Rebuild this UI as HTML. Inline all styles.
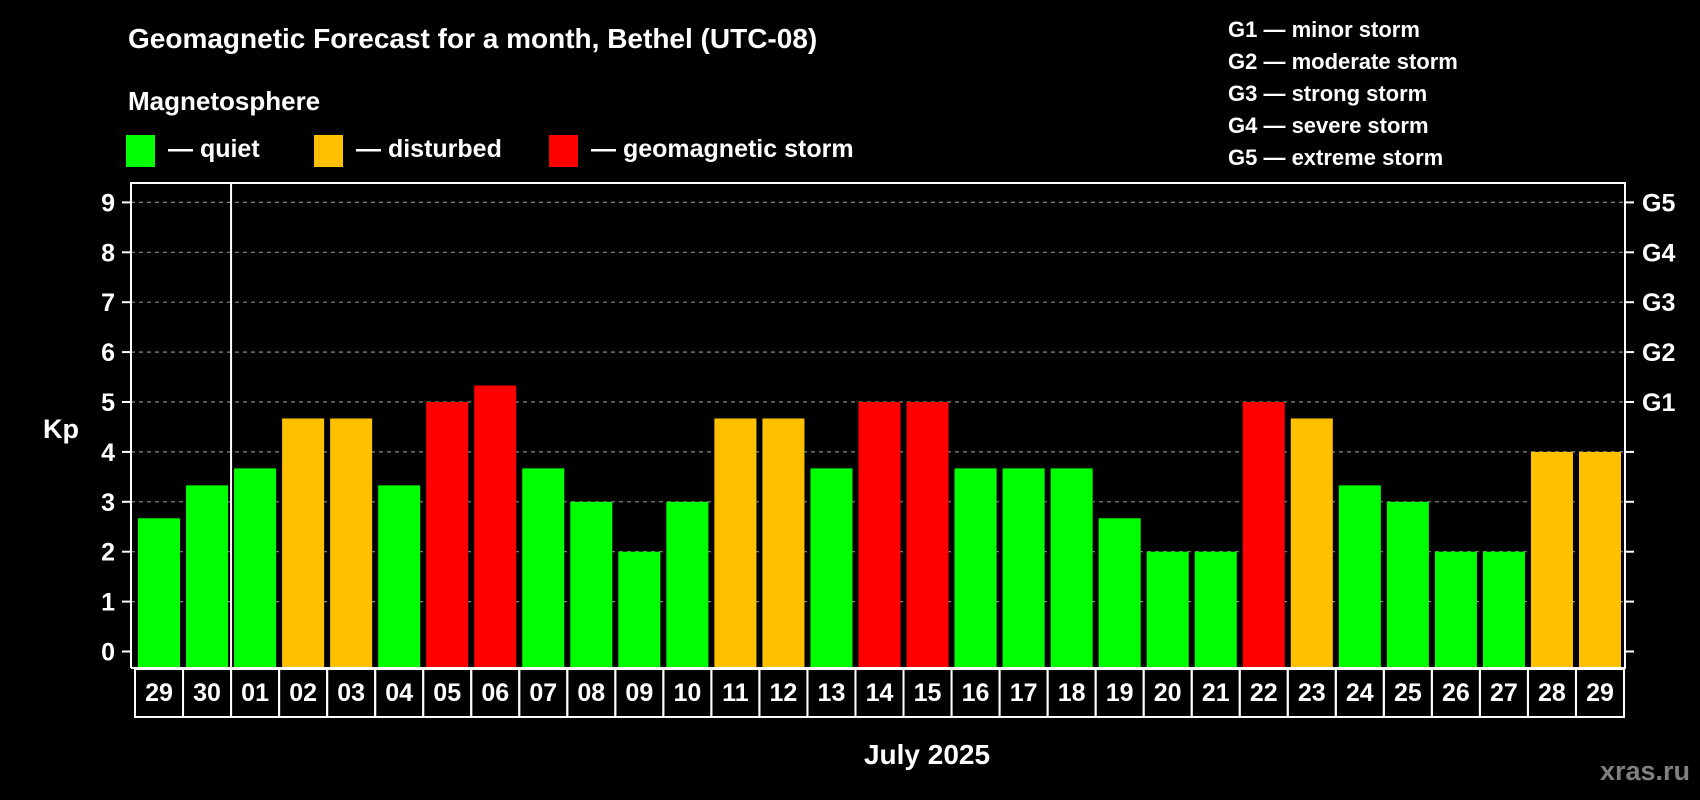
<!DOCTYPE html>
<html><head><meta charset="utf-8"><style>
html,body{margin:0;padding:0;background:#000;}
svg{display:block;font-family:"Liberation Sans",Arial,sans-serif;font-weight:bold;}
</style></head><body>
<svg id="chart" width="1700" height="800" viewBox="0 0 1700 800">
<rect x="0" y="0" width="1700" height="800" fill="#000"/>
<text x="128" y="48" font-size="28" fill="#fff">Geomagnetic Forecast for a month, Bethel (UTC-08)</text>
<text x="128" y="110" font-size="26" fill="#fff">Magnetosphere</text>
<g>
<rect x="126" y="135" width="29" height="32" fill="#00ff00"/>
<text x="168" y="157" font-size="25" fill="#fff">— quiet</text></g>
<g>
<rect x="314" y="135" width="29" height="32" fill="#ffc000"/>
<text x="356" y="157" font-size="25" fill="#fff">— disturbed</text></g>
<g>
<rect x="549" y="135" width="29" height="32" fill="#ff0000"/>
<text x="591" y="157" font-size="25" fill="#fff">— geomagnetic storm</text></g>
<g font-size="22" fill="#fff">
<text x="1228" y="37">G1 — minor storm</text>
<text x="1228" y="69">G2 — moderate storm</text>
<text x="1228" y="101">G3 — strong storm</text>
<text x="1228" y="133">G4 — severe storm</text>
<text x="1228" y="165">G5 — extreme storm</text>
</g>
<text x="43" y="438" font-size="27" fill="#fff">Kp</text>
<text x="927" y="764" font-size="28" fill="#fff" text-anchor="middle">July 2025</text>
<text x="1690" y="780" font-size="27" fill="#808080" text-anchor="end">xras.ru</text>
<g id="grid"></g><g id="bars"></g><g id="axes"></g><g id="dates"></g>
</svg>
<script>
const days = ["29","30","01","02","03","04","05","06","07","08","09","10","11","12","13","14","15","16","17","18","19","20","21","22","23","24","25","26","27","28","29"];
const kpValues = [2.67,3.33,3.67,4.67,4.67,3.33,5,5.33,3.67,3,2,3,4.67,4.67,3.67,5,5,3.67,3.67,3.67,2.67,2,2,5,4.67,3.33,3,2,2,4,4];
const yTicks = [0,1,2,3,4,5,6,7,8,9];
const gLabels = ["","","","","","G1","G2","G3","G4","G5"];

const NS="http://www.w3.org/2000/svg";
const plotL=131, plotR=1625, plotT=183, plotB=668;
const colX0=135, colW=(1624-135)/days.length;
function y(v){return 651.5 - v*49.9;}
function x(i){return colX0 + i*colW;}
function mk(tag,attrs,parent){const e=document.createElementNS(NS,tag);for(const k in attrs)e.setAttribute(k,attrs[k]);parent.appendChild(e);return e;}
function color(v){return v>=5?"#ff0000":(v>=4?"#ffc000":"#00ff00");}
const grid=document.getElementById('grid'), bars=document.getElementById('bars'), axes=document.getElementById('axes'), dates=document.getElementById('dates');

yTicks.forEach((t,i)=>{
  if(t>0){const gl=mk('line',{x1:plotL,x2:plotR-2,y1:y(t),y2:y(t),stroke:"#888","stroke-width":1.2,"stroke-dasharray":"4,4"},grid);
  
  }
  const lt=mk('line',{x1:plotL-9,x2:plotL,y1:y(t),y2:y(t),stroke:"#fff","stroke-width":2},axes);
  
  
  const rt=mk('line',{x1:plotR,x2:plotR+9,y1:y(t),y2:y(t),stroke:"#fff","stroke-width":2},axes);
  
  
  const lb=mk('text',{x:115,y:y(t)+9,"font-size":25,fill:"#fff","text-anchor":"end"},axes);
  lb.textContent=t;
  
  
  if(gLabels[i]){const gt=mk('text',{x:1642,y:y(t)+9,"font-size":25,fill:"#fff"},axes);
  gt.textContent=gLabels[i];
  
  }
});

kpValues.forEach((v,i)=>{
  const r=mk('rect',{x:x(i)+3,y:y(v),width:colW-6,height:plotB-y(v),fill:color(v)},bars);
  
  
});

const frame=mk('path',{d:`M${plotL},${plotB} V${plotT} H${plotR} V${plotB} H${plotL}`,fill:"none",stroke:"#fff","stroke-width":2},axes);


const sep=mk('line',{x1:x(2),x2:x(2),y1:plotT,y2:plotB,stroke:"#fff","stroke-width":2},axes);



days.forEach((d,i)=>{
  const c=mk('rect',{x:x(i),y:669,width:colW,height:48,fill:"none",stroke:"#fff","stroke-width":2},dates);
  
  
  const t=mk('text',{x:x(i)+colW/2,y:701,"font-size":25,fill:"#fff","text-anchor":"middle"},dates);
  t.textContent=d;
  
  
});
</script>
</body></html>
